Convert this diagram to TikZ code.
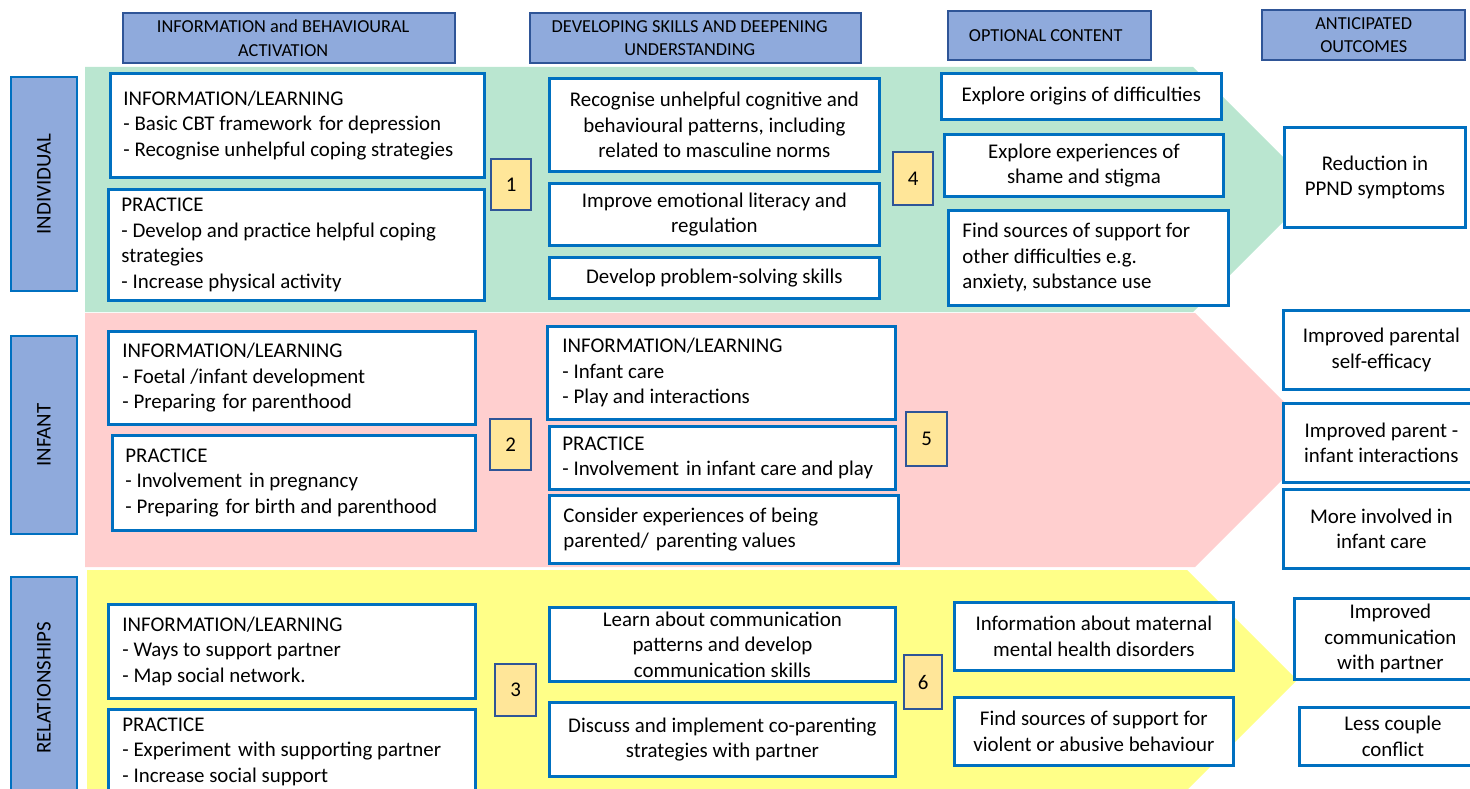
\documentclass[tikz,border=0pt]{standalone}
\usepackage{fontspec}
\setmainfont{Carlito}
\definecolor{hdrfill}{HTML}{8FAADC}
\definecolor{hdrline}{HTML}{2F5597}
\definecolor{boxline}{HTML}{0070C0}
\definecolor{numfill}{HTML}{FFE699}
\definecolor{numline}{HTML}{2F5597}
\definecolor{bandgreen}{HTML}{BAE6D0}
\definecolor{bandpink}{HTML}{FFCFCF}
\definecolor{bandyellow}{HTML}{FFFF88}
\newcommand\bodyfont{\fontsize{20.9}{25.5}\selectfont}
\newcommand\hdrfont{\fontsize{18.3}{23.5}\selectfont}
\newcommand\wgap{\hspace{7pt}}
\begin{document}
\begin{tikzpicture}[x=1pt,y=-1pt,
  hdr/.style={draw=hdrline, fill=hdrfill, line width=2.4pt, font=\hdrfont,
    align=center, inner sep=0pt, anchor=north west},
  rowlabel/.style={draw=boxline, fill=hdrfill, line width=2.8pt, font=\bodyfont,
    rotate=90, minimum height=66pt, inner sep=0pt},
  cbox/.style={draw=boxline, fill=white, line width=2.8pt, font=\bodyfont,
    inner sep=0pt, anchor=north west},
  ctr/.style={cbox, align=center},
  lft/.style={cbox, align=flush left, inner xsep=13pt},
  num/.style={draw=numline, fill=numfill, line width=2.4pt, font=\bodyfont,
    inner sep=0pt, anchor=north west}
]
\useasboundingbox (0,0) rectangle (1470,789);
\clip (0,0) rectangle (1470,789);

% coloured bands, each ending in a chevron point
\fill[bandgreen] (85,67) -- (1193,67) -- (1315.5,189.5) -- (1193,312) -- (85,312) -- cycle;
\fill[bandpink] (85,313) -- (1195,313) -- (1322,440) -- (1195,567) -- (85,567) -- cycle;
\fill[bandyellow] (87,570) -- (1187,570) -- (1297,680) -- (1187,790) -- (87,790) -- cycle;

% column headings
\node[hdr, minimum width=332pt, minimum height=50pt] (h1) at (122,12)
  {INFORMATION and BEHAVIOURAL\hspace*{12pt}\\ACTIVATION\hspace*{12pt}};
\node[hdr, minimum width=331pt, minimum height=50pt] (h2) at (529,12)
  {DEVELOPING SKILLS AND DEEPENING\hspace*{12pt}\\UNDERSTANDING\hspace*{12pt}};
\node[hdr, minimum width=203pt, minimum height=49pt] (h3) at (947,10)
  {OPTIONAL CONTENT\hspace*{8pt}};
\node[hdr, minimum width=203pt, minimum height=50pt] (h4) at (1261,9)
  {ANTICIPATED\\OUTCOMES};

% row headings
\node[rowlabel, minimum width=214pt] (rind) at (44,184) {INDIVIDUAL};
\node[rowlabel, minimum width=198pt] (rinf) at (44,435) {INFANT};
\node[rowlabel, minimum width=222pt] (rrel) at (44,688) {RELATIONSHIPS};

% ---- individual ----
\node[lft, text width=348pt, minimum height=104pt] (ind1) at (109,72)
  {INFORMATION/LEARNING\\- Basic CBT framework\wgap for depression\\- Recognise unhelpful coping strategies};
\node[lft, text width=350pt, minimum height=111pt] (ind2) at (107,188)
  {PRACTICE\\- Develop and practice helpful coping\\strategies\\- Increase physical activity};
\node[num, minimum width=40pt, minimum height=51pt] (n1) at (490,158) {1};
\node[ctr, minimum width=330pt, minimum height=93pt] (ind3) at (548,77)
  {Recognise unhelpful cognitive and\\behavioural patterns, including\\related to masculine norms};
\node[ctr, minimum width=330pt, minimum height=62pt] (ind4) at (548,182)
  {Improve emotional literacy and\\regulation};
\node[ctr, minimum width=330pt, minimum height=41pt] (ind5) at (548,256)
  {Develop problem-solving skills};
\node[num, minimum width=40pt, minimum height=53pt] (n4) at (892,151) {4};
\node[ctr, minimum width=280pt, minimum height=46pt] (ind6) at (940,72)
  {Explore origins of difficulties};
\node[ctr, minimum width=279pt, minimum height=62pt] (ind7) at (943,133)
  {Explore experiences of\\shame and stigma};
\node[lft, inner xsep=14pt, text width=252pt, minimum height=95pt] (ind8) at (947,209)
  {Find sources of support for\\other difficulties e.g.\\anxiety, substance use};
\node[ctr, minimum width=181pt, minimum height=100pt] (out1) at (1283,126)
  {Reduction in\\PPND symptoms};

% ---- infant ----
\node[lft, inner xsep=14pt, text width=339pt, minimum height=93pt] (inf1) at (107,330)
  {INFORMATION/LEARNING\\- Foetal /infant development\\- Preparing\wgap for parenthood};
\node[lft, text width=337pt, minimum height=95pt] (inf2) at (111,434)
  {PRACTICE\\- Involvement\wgap in pregnancy\\- Preparing\wgap for birth and parenthood};
\node[num, minimum width=41pt, minimum height=51pt] (n2) at (489,418) {2};
\node[lft, inner xsep=15pt, text width=318pt, minimum height=93pt] (inf3) at (546,325)
  {INFORMATION/LEARNING\\- Infant care\\- Play and interactions};
\node[lft, text width=320pt, minimum height=63pt] (inf4) at (548,425)
  {PRACTICE\\- Involvement\wgap in infant care and play};
\node[lft, inner xsep=14pt, text width=321pt, minimum height=68pt] (inf5) at (548,494)
  {Consider experiences of being\\parented/\wgap parenting values};
\node[num, minimum width=41pt, minimum height=54pt] (n5) at (905,411) {5};
\node[ctr, minimum width=196pt, minimum height=79pt] (out2) at (1282,309)
  {Improved parental\\self-efficacy};
\node[ctr, minimum width=196pt, minimum height=79pt] (out3) at (1282,402)
  {Improved parent -\\infant interactions};
\node[ctr, minimum width=196pt, minimum height=79pt] (out4) at (1282,488)
  {More involved in\\infant care};

% ---- relationships ----
\node[lft, inner xsep=14pt, text width=339pt, minimum height=94pt] (rel1) at (107,603)
  {INFORMATION/LEARNING\\- Ways to support partner\\- Map social network.};
\node[lft, inner xsep=14pt, text width=339pt, minimum height=84pt] (rel2) at (107,708)
  {PRACTICE\\- Experiment\wgap with supporting partner\\- Increase social support};
\node[num, minimum width=41pt, minimum height=52pt] (n3) at (494,663) {3};
\node[ctr, minimum width=346pt, minimum height=74pt] (rel3) at (548,606)
  {Learn about communication\\patterns and develop\\communication skills};
\node[ctr, minimum width=346pt, minimum height=74pt] (rel4) at (548,701)
  {Discuss and implement co-parenting\\strategies with partner};
\node[num, minimum width=38pt, minimum height=54pt] (n6) at (903,654) {6};
\node[ctr, minimum width=279pt, minimum height=68pt] (rel5) at (953,601)
  {Information about maternal\\mental health disorders};
\node[ctr, minimum width=279pt, minimum height=68pt] (rel6) at (953,696)
  {Find sources of support for\\violent or abusive behaviour};
\node[ctr, minimum width=192pt, minimum height=81pt] (out5) at (1293,597)
  {Improved\\communication\\with partner};
\node[ctr, minimum width=187pt, minimum height=58pt] (out6) at (1298,706)
  {Less couple\\conflict};
\end{tikzpicture}
\end{document}
